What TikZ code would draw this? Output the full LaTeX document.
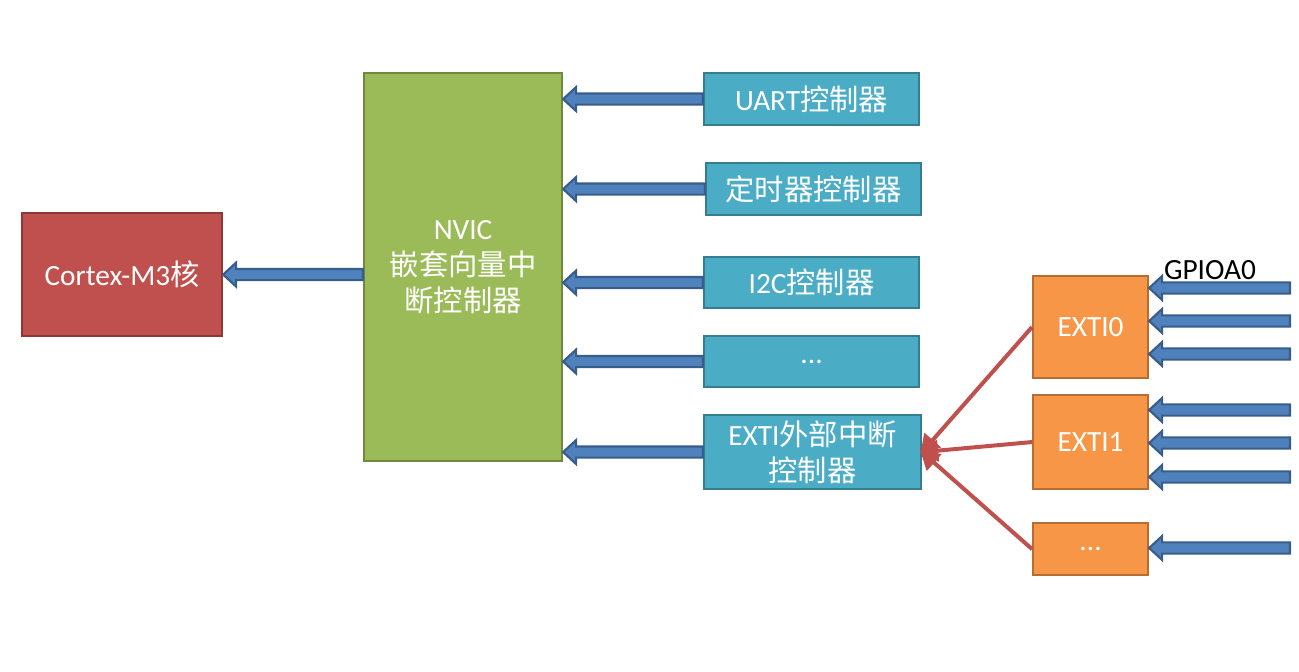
\documentclass[tikz,border=0pt]{standalone}
\usepackage{fontspec}
\setmainfont{Carlito}
\newfontfamily\cjk{Noto Sans CJK SC}
\usetikzlibrary{calc,arrows.meta}
\definecolor{cred}{HTML}{C0504D}
\definecolor{credb}{HTML}{8C3836}
\definecolor{cgreen}{HTML}{9BBB59}
\definecolor{cgreenb}{HTML}{71893F}
\definecolor{ccyan}{HTML}{4BACC6}
\definecolor{ccyanb}{HTML}{357D91}
\definecolor{corange}{HTML}{F79646}
\definecolor{corangeb}{HTML}{B66D31}
\definecolor{cblue}{HTML}{4F81BD}
\definecolor{cblueb}{HTML}{385D8A}
\tikzset{
  boxbase/.style={draw, line width=1.6pt, inner sep=0pt, text=white, align=center,
    font=\fontsize{22}{27}\selectfont, anchor=north west},
  redbox/.style={boxbase, fill=cred, draw=credb},
  greenbox/.style={boxbase, fill=cgreen, draw=cgreenb},
  cyanbox/.style={boxbase, fill=ccyan, draw=ccyanb},
  orangebox/.style={boxbase, fill=corange, draw=corangeb},
  blockarr/.style={fill=cblue, draw=cblueb, line width=1.6pt, line join=miter,
    to path={let \p1=(\tikztostart), \p2=(\tikztotarget) in
      (\x1,{\y1+4.2pt}) -- ({\x2+9.75pt},{\y1+4.2pt}) -- ({\x2+9.75pt},{\y1+9pt})
      -- (\x2,\y1) -- ({\x2+9.75pt},{\y1-9pt}) -- ({\x2+9.75pt},{\y1-4.2pt})
      -- (\x1,{\y1-4.2pt}) -- cycle}},
  redarr/.style={draw=cred, line width=3pt, -{Triangle[length=14pt,width=16pt]}, shorten >=-2pt}
}
\begin{document}
\begin{tikzpicture}[x=0.75pt,y=-0.75pt]
\useasboundingbox (0,0) rectangle (1299,671);
\node[redbox, minimum width=200*0.75pt, minimum height=123*0.75pt] (core) at (21,212) {Cortex-M3{\cjk 核}};
\node[greenbox, minimum width=198*0.75pt, minimum height=388*0.75pt] (nvic) at (363,72) {NVIC\\{\cjk 嵌套向量中}\\{\cjk 断控制器}};
\node[cyanbox, minimum width=215*0.75pt, minimum height=52*0.75pt] (uart) at (703,72) {UART{\cjk 控制器}};
\node[cyanbox, minimum width=215*0.75pt, minimum height=52*0.75pt] (tim) at (705,162) {{\cjk 定时器控制器}};
\node[cyanbox, minimum width=215*0.75pt, minimum height=51*0.75pt] (i2c) at (703,256) {I2C{\cjk 控制器}};
\node[cyanbox, minimum width=215*0.75pt, minimum height=51*0.75pt] (dots) at (703,335) {...};
\node[cyanbox, minimum width=217*0.75pt, minimum height=74*0.75pt] (exti) at (703,414) {EXTI{\cjk 外部中断}\\{\cjk 控制器}};
\node[orangebox, minimum width=115*0.75pt, minimum height=102*0.75pt] (e0) at (1032,275) {EXTI0};
\node[orangebox, minimum width=115*0.75pt, minimum height=94*0.75pt] (e1) at (1032,394) {EXTI1};
\node[orangebox, minimum width=115*0.75pt, minimum height=52*0.75pt] (edots) at (1032,522) {...};
\node[font=\fontsize{22}{27}\selectfont, text=black, inner sep=0pt] (gpio) at (1210,270) {GPIOA0};
% blue block arrows
\path[blockarr] (nvic.west |- core.east) to (core.east);
\path[blockarr] (uart.west) to (nvic.east |- uart.west);
\path[blockarr] (tim.west) to (nvic.east |- tim.west);
\path[blockarr] (i2c.west) to (nvic.east |- i2c.west);
\path[blockarr] (dots.west) to (nvic.east |- dots.west);
\path[blockarr] (exti.west) to (nvic.east |- exti.west);
% inputs
\foreach \yy [count=\i] in {288,321,354,410,443,477,548} {
  \coordinate (in\i) at (1290,\yy);
}
\foreach \i in {1,2,3} { \path[blockarr] (in\i) to (e0.east |- in\i); }
\foreach \i in {4,5,6} { \path[blockarr] (in\i) to (e1.east |- in\i); }
\path[blockarr] (in7) to (edots.east |- in7);
% red arrows
\draw[redarr] (e0.west) -- (exti.east);
\draw[redarr] (e1.west) -- (exti.east);
\draw[redarr] (edots.west) -- (exti.east);
\end{tikzpicture}
\end{document}
